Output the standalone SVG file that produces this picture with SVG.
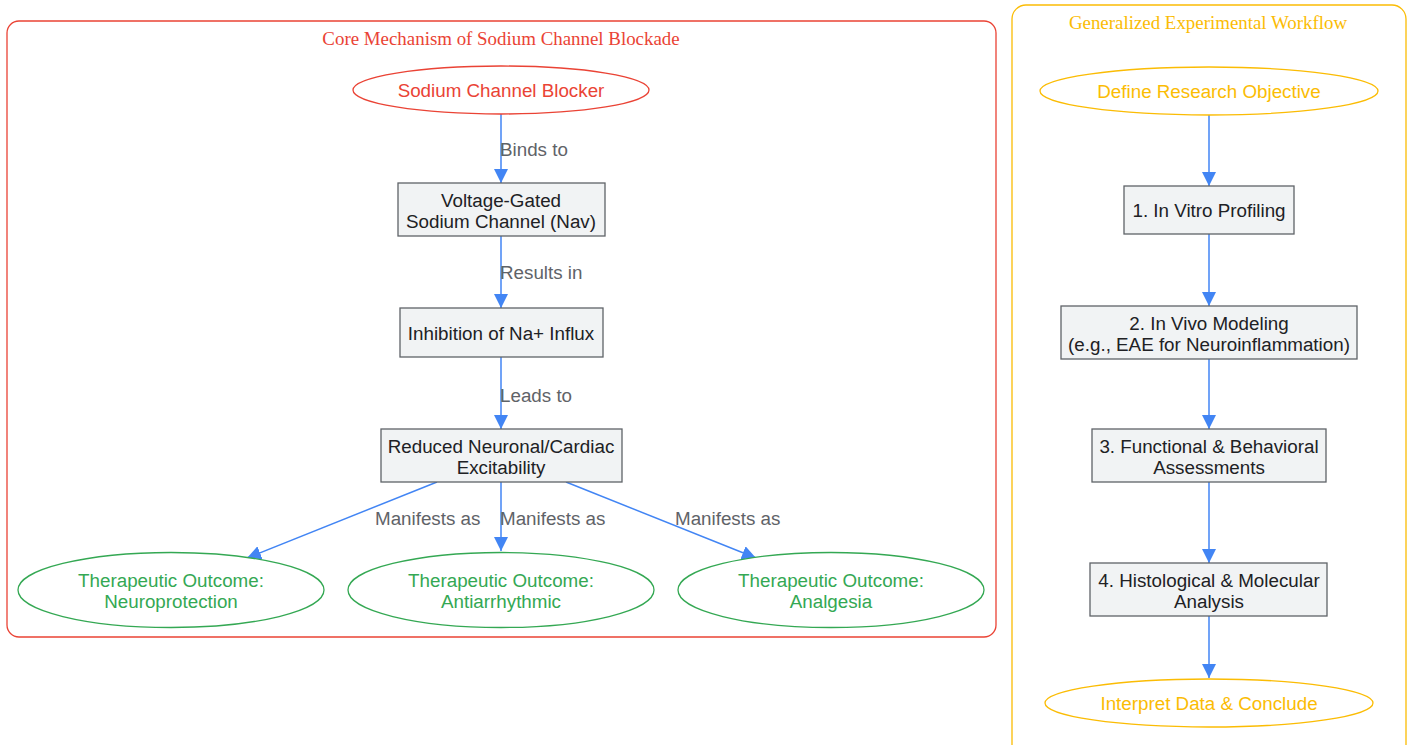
<svg xmlns="http://www.w3.org/2000/svg" width="1409" height="745" viewBox="0 0 1409 745">
<style>
.cl{fill:none;stroke-width:1.3}
.ct{font-family:"Liberation Serif",serif;font-size:18.9px;text-anchor:middle}
.box{fill:#F1F3F4;stroke:#5F6368;stroke-width:1.3}
.bt{font-family:"Liberation Sans",Arial,sans-serif;font-size:18.8px;fill:#202124;text-anchor:middle}
.et{font-family:"Liberation Sans",Arial,sans-serif;font-size:18.8px;text-anchor:middle}
.el{font-family:"Liberation Sans",Arial,sans-serif;font-size:18.8px;fill:#5F6368}
.edge{fill:none;stroke:#4285F4;stroke-width:1.5;marker-end:url(#ah)}
</style>
<defs>
<marker id="ah" viewBox="0 0 10 10" refX="10" refY="5" markerWidth="14" markerHeight="14" markerUnits="userSpaceOnUse" orient="auto">
<path d="M0,0 L10,5 L0,10 z" fill="#4285F4"/>
</marker>
</defs>
<rect width="1409" height="745" fill="#fff"/>
<g id="cluster-core">
<rect class="cl" x="7" y="21" width="989" height="616" rx="12" stroke="#EA4335"/>
<text class="ct" x="501" y="45" fill="#EA4335">Core Mechanism of Sodium Channel Blockade</text>
</g>
<g id="cluster-workflow">
<rect class="cl" x="1012" y="5" width="394" height="760" rx="14" stroke="#FBBC04"/>
<text class="ct" x="1208" y="29" fill="#FBBC04">Generalized Experimental Workflow</text>
</g>
<g id="edges">
<line class="edge" x1="501" y1="114" x2="501" y2="183"/>
<line class="edge" x1="501" y1="236" x2="501" y2="308"/>
<line class="edge" x1="501" y1="357" x2="501" y2="429"/>
<line class="edge" x1="437" y1="482" x2="247" y2="558"/>
<line class="edge" x1="501" y1="482" x2="501" y2="551"/>
<line class="edge" x1="566" y1="482" x2="756" y2="558"/>
<line class="edge" x1="1209" y1="115" x2="1209" y2="186"/>
<line class="edge" x1="1209" y1="234" x2="1209" y2="306"/>
<line class="edge" x1="1209" y1="359" x2="1209" y2="429"/>
<line class="edge" x1="1209" y1="482" x2="1209" y2="563"/>
<line class="edge" x1="1209" y1="616" x2="1209" y2="678"/>
<text class="el" x="500" y="156">Binds to</text>
<text class="el" x="500" y="279">Results in</text>
<text class="el" x="500" y="402">Leads to</text>
<text class="el" x="375" y="525">Manifests as</text>
<text class="el" x="500" y="525">Manifests as</text>
<text class="el" x="675" y="525">Manifests as</text>
</g>
<g id="node-blocker">
<ellipse cx="501" cy="90" rx="148" ry="24" fill="#fff" stroke="#EA4335" stroke-width="1.3"/>
<text class="et" x="501" y="97" fill="#EA4335">Sodium Channel Blocker</text>
</g>
<g id="node-nav">
<rect class="box" x="398" y="183" width="207" height="53"/>
<text class="bt" x="501" y="207">Voltage-Gated</text>
<text class="bt" x="501" y="228">Sodium Channel (Nav)</text>
</g>
<g id="node-inhibition">
<rect class="box" x="400" y="308" width="203" height="49"/>
<text class="bt" x="501" y="340">Inhibition of Na+ Influx</text>
</g>
<g id="node-reduced">
<rect class="box" x="381" y="429" width="241" height="53"/>
<text class="bt" x="501" y="453">Reduced Neuronal/Cardiac</text>
<text class="bt" x="501" y="474">Excitability</text>
</g>
<g id="node-neuro">
<ellipse cx="171" cy="590" rx="153" ry="37.5" fill="#fff" stroke="#34A853" stroke-width="1.3"/>
<text class="et" x="171" y="587" fill="#34A853">Therapeutic Outcome:</text>
<text class="et" x="171" y="608" fill="#34A853">Neuroprotection</text>
</g>
<g id="node-antiarr">
<ellipse cx="501" cy="590" rx="153" ry="37.5" fill="#fff" stroke="#34A853" stroke-width="1.3"/>
<text class="et" x="501" y="587" fill="#34A853">Therapeutic Outcome:</text>
<text class="et" x="501" y="608" fill="#34A853">Antiarrhythmic</text>
</g>
<g id="node-analgesia">
<ellipse cx="831" cy="590" rx="153" ry="37.5" fill="#fff" stroke="#34A853" stroke-width="1.3"/>
<text class="et" x="831" y="587" fill="#34A853">Therapeutic Outcome:</text>
<text class="et" x="831" y="608" fill="#34A853">Analgesia</text>
</g>
<g id="node-objective">
<ellipse cx="1209" cy="91" rx="169" ry="24" fill="#fff" stroke="#FBBC04" stroke-width="1.3"/>
<text class="et" x="1209" y="98" fill="#FBBC04">Define Research Objective</text>
</g>
<g id="node-invitro">
<rect class="box" x="1124" y="186" width="170" height="48"/>
<text class="bt" x="1209" y="217">1. In Vitro Profiling</text>
</g>
<g id="node-invivo">
<rect class="box" x="1061" y="306" width="296" height="53"/>
<text class="bt" x="1209" y="330">2. In Vivo Modeling</text>
<text class="bt" x="1209" y="351">(e.g., EAE for Neuroinflammation)</text>
</g>
<g id="node-functional">
<rect class="box" x="1092" y="429" width="234" height="53"/>
<text class="bt" x="1209" y="453">3. Functional &amp; Behavioral</text>
<text class="bt" x="1209" y="474">Assessments</text>
</g>
<g id="node-histo">
<rect class="box" x="1090" y="563" width="237" height="53"/>
<text class="bt" x="1209" y="587">4. Histological &amp; Molecular</text>
<text class="bt" x="1209" y="608">Analysis</text>
</g>
<g id="node-interpret">
<ellipse cx="1209" cy="703" rx="164" ry="24" fill="#fff" stroke="#FBBC04" stroke-width="1.3"/>
<text class="et" x="1209" y="710" fill="#FBBC04">Interpret Data &amp; Conclude</text>
</g>
</svg>
